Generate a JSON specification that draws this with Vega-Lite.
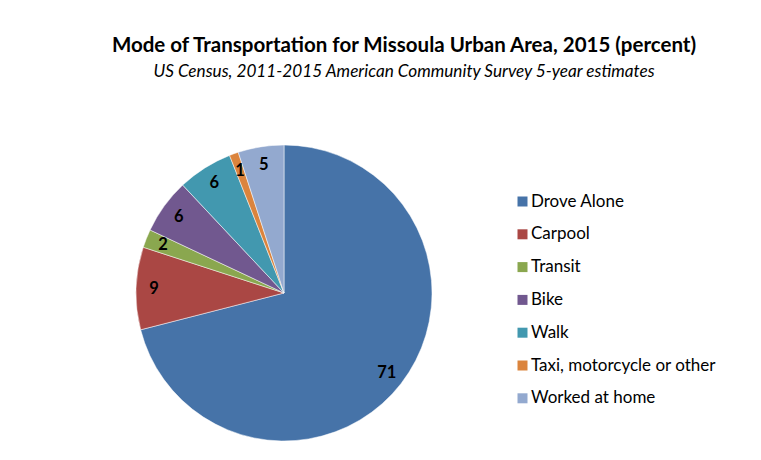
{
  "$schema": "https://vega.github.io/schema/vega-lite/v6.json",
  "width": 296,
  "height": 296,
  "padding": {"left": 108, "top": 36, "right": 0, "bottom": 0},
  "background": "white",
  "data": {
    "values": [
      {"n": 1, "mode": "Drove Alone", "pct": 71},
      {"n": 2, "mode": "Carpool", "pct": 9},
      {"n": 3, "mode": "Transit", "pct": 2},
      {"n": 4, "mode": "Bike", "pct": 6},
      {"n": 5, "mode": "Walk", "pct": 6},
      {"n": 6, "mode": "Taxi, motorcycle or other", "pct": 1},
      {"n": 7, "mode": "Worked at home", "pct": 5}
    ]
  },
  "title": {
    "text": "Mode of Transportation  for Missoula Urban Area, 2015 (percent)",
    "subtitle": "US Census, 2011-2015 American Community Survey 5-year estimates",
    "anchor": "middle",
    "frame": "group",
    "dx": 120,
    "offset": 64,
    "font": "Lato",
    "fontSize": 20.5,
    "fontWeight": "bold",
    "color": "#000000",
    "subtitleFont": "Lato",
    "subtitleFontSize": 17.2,
    "subtitleFontStyle": "italic",
    "subtitleColor": "#000000",
    "subtitlePadding": 6
  },
  "encoding": {
    "theta": {"field": "pct", "type": "quantitative", "stack": true},
    "order": {"field": "n", "type": "quantitative"},
    "color": {
      "field": "mode",
      "type": "nominal",
      "sort": null,
      "scale": {
        "domain": ["Drove Alone", "Carpool", "Transit", "Bike", "Walk", "Taxi, motorcycle or other", "Worked at home"],
        "range": ["#4673A8", "#AA4744", "#8AA74F", "#71588F", "#4298AF", "#DB843D", "#93A9CF"]
      },
      "legend": {
        "title": null,
        "orient": "right",
        "offset": 34,
        "padding": 48,
        "symbolType": "square",
        "symbolSize": 100,
        "symbolStrokeWidth": 0,
        "labelFont": "Lato",
        "labelFontSize": 17,
        "labelColor": "#000000",
        "labelOffset": 0,
        "rowPadding": 14.8,
        "labelLimit": 300
      }
    }
  },
  "layer": [
    {"mark": {"type": "arc", "stroke": "white", "strokeWidth": 0.5}},
    {
      "mark": {"type": "text", "radius": 130, "font": "Lato", "fontSize": 16.5, "fontWeight": "bold", "color": "#000000"},
      "encoding": {"text": {"field": "pct", "type": "quantitative"}, "color": {"value": "#000000"}}
    }
  ],
  "config": {"view": {"stroke": null}}
}
